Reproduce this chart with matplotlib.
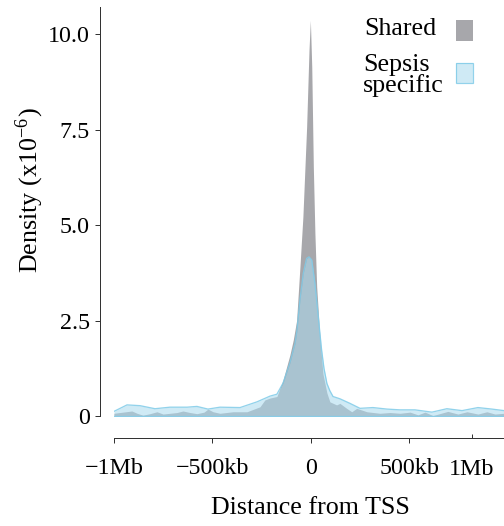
# Density of peak distance to TSS, shared vs sepsis specific

import numpy as np
import matplotlib
matplotlib.use('Agg')
import matplotlib.pyplot as plt
from matplotlib.patches import Rectangle

plt.rcParams['font.family'] = ['Liberation Serif', 'DejaVu Serif']
plt.rcParams['mathtext.fontset'] = 'stix'

# distance from TSS (kb) and density (x1e-6)
shared_kb = [-1000, -970, -909, -883, -853, -817, -782, -751, -680, -650, -614, -579,
             -543, -523, -497, -462, -396, -325, -259, -234, -208, -173, -142, -107,
             -90, -73, -56, -41, -22, -10, -3, 4, 12, 20, 29, 46, 61, 81, 96, 130,
             147, 181, 207, 232, 284, 350, 401, 452, 503, 543, 579, 619, 695, 746,
             792, 848, 893, 934, 980]
shared_dens = [0.07, 0.09, 0.13, 0.07, 0.02, 0.06, 0.11, 0.05, 0.09, 0.13, 0.09, 0.06,
               0.10, 0.18, 0.11, 0.07, 0.11, 0.11, 0.24, 0.42, 0.47, 0.51, 0.94, 1.60,
               1.99, 2.50, 3.91, 5.22, 7.58, 9.59, 10.37, 9.15, 6.53, 4.79, 3.39, 2.00,
               1.10, 0.60, 0.37, 0.29, 0.33, 0.20, 0.11, 0.20, 0.11, 0.07, 0.09, 0.07,
               0.10, 0.03, 0.10, 0.01, 0.12, 0.05, 0.11, 0.05, 0.11, 0.05, 0.07]

sepsis_kb = [-1000, -934, -868, -792, -716, -629, -579, -523, -462, -360, -274, -208,
             -173, -142, -107, -81, -71, -56, -39, -22, -10, 4, 20, 37, 54, 66, 81,
             96, 112, 147, 198, 249, 315, 386, 452, 528, 614, 690, 767, 848, 919, 980]
sepsis_dens = [0.12, 0.29, 0.27, 0.19, 0.23, 0.23, 0.25, 0.18, 0.23, 0.22, 0.37, 0.52,
               0.57, 0.86, 1.39, 1.90, 2.25, 3.04, 3.74, 4.13, 4.17, 4.09, 3.48, 2.60,
               1.73, 1.25, 0.85, 0.66, 0.51, 0.45, 0.33, 0.20, 0.22, 0.18, 0.16, 0.16,
               0.10, 0.19, 0.14, 0.22, 0.18, 0.14]

tick_pos = [-1e6, -5e5, 0, 5e5]
tick_lab = ['\u22121Mb', '\u2212500kb', '0', '500kb']
ytick_pos = [0, 2.5, 5.0, 7.5, 10.0]
ytick_lab = ['0', '2.5', '5.0', '7.5', '10.0']
legend_names = ['Shared', 'Sepsis\nspecific']

gray = '#a7a7ab'
blue = '#abdaee'
blue_edge = '#7fcbe8'

W, H = 504, 526
fig = plt.figure(figsize=(W/72, H/72), dpi=72)

def fx(px):
    return px / W

def fy(py):
    return 1 - py / H

ax = fig.add_axes([fx(114), fy(417.1), 390/W, 410.1/H])

xs = np.array(shared_kb) * 1e3
xb = np.array(sepsis_kb) * 1e3
ax.fill_between(xs, 0, shared_dens, color=gray, lw=0)
ax.fill_between(xb, 0, sepsis_dens, color=blue, alpha=0.56, lw=0)
ax.plot(xb, sepsis_dens, color=blue_edge, lw=1.3, alpha=0.85)
ax.plot([xb[0], xb[-1]], [0, 0], color=blue_edge, lw=1.3, alpha=0.85)

ax.set_xlim(-1e6, 0.98e6)
ax.set_ylim(-0.03, 10.72)

for s in ['top', 'right']:
    ax.spines[s].set_visible(False)
ax.spines['left'].set_position(('outward', 14))
ax.spines['left'].set_bounds(0, 10.72)
ax.spines['bottom'].set_position(('outward', 21))
ax.spines['bottom'].set_bounds(-1e6, 0.98e6)
for s in ['left', 'bottom']:
    ax.spines[s].set_color('#333333')
    ax.spines[s].set_linewidth(1)

ax.set_yticks(ytick_pos)
ax.set_yticklabels(ytick_lab)
ax.set_xticks(tick_pos)
ax.set_xticklabels(tick_lab)
ax.set_xticks([0.817e6], minor=True)
ax.set_xticklabels(['1Mb'], minor=True)
ax.tick_params(axis='both', which='major', labelsize=24, length=5, width=1,
               color='#333333', pad=5)
ax.tick_params(axis='x', which='major', pad=15)
ax.tick_params(axis='x', which='minor', labelsize=24, length=4, width=1,
               color='#333333', direction='in', pad=21)

fig.text(fx(30), fy(190), 'Density (x10$^{\\mathregular{-6}}$)', rotation=90,
         ha='center', va='center', fontsize=26)
fig.text(fx(310), fy(508), 'Distance from TSS', ha='center', va='center', fontsize=26)

# legend
fig.text(fx(364), fy(35), legend_names[0], ha='left', va='baseline', fontsize=26)
fig.text(fx(363), fy(92), legend_names[1], ha='left', va='baseline', fontsize=26,
         linespacing=0.88, multialignment='left')
fig.patches.append(Rectangle((fx(456), fy(40.7)), 17/W, 20.7/H, transform=fig.transFigure,
                             facecolor=gray, edgecolor='none'))
fig.patches.append(Rectangle((fx(456), fy(83.3)), 17/W, 20.6/H, transform=fig.transFigure,
                             facecolor=blue, alpha=0.56, edgecolor='none'))
fig.patches.append(Rectangle((fx(456), fy(83.3)), 17/W, 20.6/H, transform=fig.transFigure,
                             facecolor='none', edgecolor=blue_edge, lw=1.2, alpha=0.85))

fig.savefig('out.png', dpi=72)
